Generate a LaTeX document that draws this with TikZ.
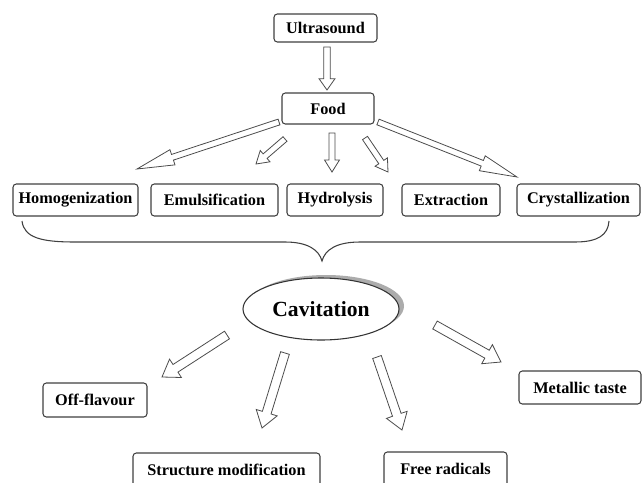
\documentclass[tikz,border=0pt]{standalone}
\usepackage{fontspec}
\setmainfont{Liberation Serif}
\usetikzlibrary{calc,shapes.geometric}
\begin{document}
\begin{tikzpicture}[x=0.75pt,y=-0.75pt,
  box/.style={draw=black!75, line width=0.8pt, rounded corners=2.5pt, fill=white,
    font=\fontsize{12.2}{14}\selectfont\bfseries, inner sep=0pt,
    minimum height=24pt},
  bw/.style={minimum width=#1*0.75pt},
  bh/.style={minimum height=#1*0.75pt},
  barrow/.style n args={3}{draw=black!70, line width=0.6pt, fill=white, line join=miter,
    to path={let \p1=(\tikztostart), \p2=(\tikztotarget),
      \n1={atan2(\y2-\y1,\x2-\x1)}, \n2={veclen(\x2-\x1,\y2-\y1)} in
      ($(\p1)+(\n1+90:#1)$) -- ($(\p1)+(\n1:\n2-#3)+(\n1+90:#1)$)
      -- ($(\p1)+(\n1:\n2-#3)+(\n1+90:#2)$) -- (\p2)
      -- ($(\p1)+(\n1:\n2-#3)+(\n1-90:#2)$) -- ($(\p1)+(\n1:\n2-#3)+(\n1-90:#1)$)
      -- ($(\p1)+(\n1-90:#1)$) -- cycle}},
  shortarrow/.style={barrow={2.25pt}{5.6pt}{9pt}},
  longarrow/.style={barrow={2.25pt}{6pt}{28pt}},
  bigarrow/.style={barrow={3.4pt}{8.2pt}{12pt}},
  bracestyle/.style={draw=black!75, line width=0.8pt}
]
\useasboundingbox (0,0) rectangle (642,482);

% top boxes
\node[box, bw=103, bh=28] (us) at (325.5,28) {Ultrasound};
\node[box, bw=92, bh=31] (food) at (328,108.5) {Food};

% row boxes
\node[box, bw=125, bh=32] (hom) at (75.5,200) {Homogenization};
\node[box, bw=127, bh=32] (emu) at (214.5,200) {Emulsification};
\node[box, bw=96, bh=32] (hyd) at (335,200) {Hydrolysis};
\node[box, bw=98, bh=32] (ext) at (451,200) {Extraction};
\node[box, bw=123, bh=32] (cry) at (578.5,200) {Crystallization};

% outcome boxes
\node[box, bw=104, bh=34] (off) at (95,400) {Off-flavour};
\node[box, bw=122, bh=33] (met) at (580,387.5) {Metallic taste};
\node[box, bw=187, bh=34] (str) at (226.5,470) {Structure modification};
\node[box, bw=123, bh=34] (fre) at (445.5,469) {Free radicals};

% cavitation ellipse with shadow
\fill[gray!65] (326,306) ellipse [x radius=78, y radius=31];
\node[ellipse, draw=black!80, line width=0.8pt, fill=white, inner sep=0pt,
  minimum width=117pt, minimum height=46.5pt,
  font=\fontsize{16.2}{18}\selectfont\bfseries] (cav) at (321,309) {Cavitation};

% arrow end points
\coordinate (a0s) at (327,47);  \coordinate (a0e) at (327,90);
\coordinate (a1s) at (279,122); \coordinate (a1e) at (137,169);
\coordinate (a2s) at (285,139); \coordinate (a2e) at (256,164);
\coordinate (a3s) at (332,133); \coordinate (a3e) at (332,172);
\coordinate (a4s) at (365,138); \coordinate (a4e) at (388,172);
\coordinate (a5s) at (378,122); \coordinate (a5e) at (517,177);
\coordinate (c1s) at (227,335); \coordinate (c1e) at (162,377);
\coordinate (c2s) at (285,353); \coordinate (c2e) at (262,428);
\coordinate (c3s) at (377,357); \coordinate (c3e) at (402,430);
\coordinate (c4s) at (435,325); \coordinate (c4e) at (501,362);

\draw[barrow={2.4pt}{6pt}{8.5pt}] (a0s) to (a0e);
\draw[longarrow] (a1s) to (a1e);
\draw[shortarrow] (a2s) to (a2e);
\draw[shortarrow] (a3s) to (a3e);
\draw[shortarrow] (a4s) to (a4e);
\draw[longarrow] (a5s) to (a5e);
\draw[bigarrow] (c1s) to (c1e);
\draw[bigarrow] (c2s) to (c2e);
\draw[bigarrow] (c3s) to (c3e);
\draw[bigarrow] (c4s) to (c4e);

% brace
\coordinate (bl) at (22,221);
\coordinate (bt) at (322,261);
\coordinate (br) at (609,221);
\draw[bracestyle] (bl) .. controls (24,238) and (42,242) .. (75,242)
  -- (285,242) .. controls (308,242) and (319,250) .. (bt)
  .. controls (325,250) and (336,242) .. (360,242)
  -- (575,242) .. controls (598,242) and (608,235) .. (br);
\end{tikzpicture}
\end{document}
